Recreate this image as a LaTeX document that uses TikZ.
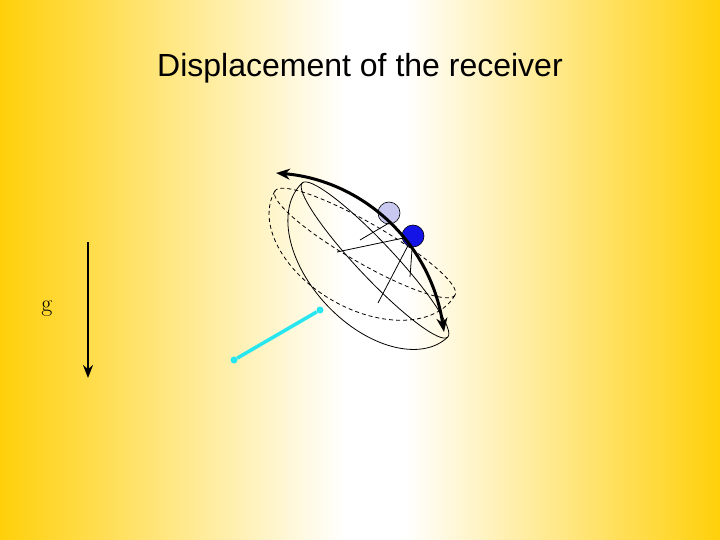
\documentclass[tikz,border=0pt]{standalone}
\usepackage{fontspec}
\setsansfont{Liberation Sans}
\usetikzlibrary{arrows.meta}
\definecolor{gold}{RGB}{255,208,10}
\definecolor{feedblue}{RGB}{20,20,230}
\definecolor{ghostblue}{RGB}{200,200,240}
\definecolor{strut}{RGB}{40,230,240}
\begin{document}
\begin{tikzpicture}[x=1pt,y=-1pt,
    rim/.style={draw=black,line width=0.8pt},
    ghost/.style={draw=black,dash pattern=on 4pt off 3pt,line width=0.8pt},
    ball/.style={circle,draw=black,line width=0.6pt,minimum size=22pt,inner sep=0pt}]
    % background
    \shade[left color=gold,right color=white] (0,0) rectangle (345,540);
    \fill[white] (345,0) rectangle (405,540);
    \shade[left color=white,right color=gold] (405,0) rectangle (720,540);
    \useasboundingbox (0,0) rectangle (720,540);
    \node[font=\sffamily\fontsize{32}{36}\selectfont] (title) at (360,68) {Displacement of the receiver};
    % gravity
    \coordinate (gtop) at (88,242);
    \coordinate (gbot) at (88,378);
    \draw[-{Stealth[length=13pt,width=10pt]},line width=2pt] (gtop) -- (gbot);
    \node[font=\fontsize{24}{28}\selectfont] (g) at (47,309) {g};
    % displaced dish
    \begin{scope}[shift={(365,243)},rotate=-30]
        \draw[ghost] (0,0) ellipse[x radius=104,y radius=20];
        \draw[ghost] (-104,0) arc[start angle=180,end angle=0,x radius=104,y radius=66];
    \end{scope}
    % dish
    \begin{scope}[shift={(375,260)},rotate=-46.7]
        \draw[rim] (0,0) ellipse[x radius=106,y radius=18];
        \draw[rim] (-106,0) arc[start angle=180,end angle=0,x radius=106,y radius=66];
    \end{scope}
    \node[ball,fill=ghostblue] (oldfeed) at (389,213) {};
    \draw[rim] (413,236) -- (337,252);
    \draw[rim] (413,236) -- (378,303);
    \draw[rim] (413,236) -- (410,277);
    \draw[rim] (389,223) -- (360,240);
    \node[ball,fill=feedblue] (feed) at (413,236) {};
    % cyan support
    \node[circle,fill=strut,inner sep=0pt,minimum size=7pt] (s1) at (234,360) {};
    \node[circle,fill=strut,inner sep=0pt,minimum size=7pt] (s2) at (320,310) {};
    \draw[strut,line width=3.5pt] (s1) -- (s2);
    % motion arrow
    \draw[{Stealth[length=14pt,width=11pt]}-{Stealth[length=14pt,width=11pt]},line width=3pt]
        (276,173) .. controls (360,180) and (430,240) .. (444,332);
\end{tikzpicture}
\end{document}
